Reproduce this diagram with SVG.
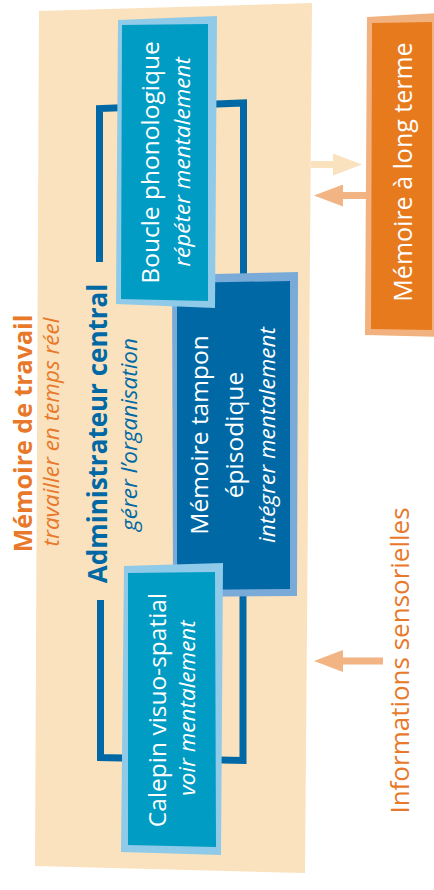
<svg xmlns="http://www.w3.org/2000/svg" width="434" height="890" viewBox="0 0 434 890">
<defs>
<style>
text{font-family:"Open Sans","Noto Sans",sans-serif;text-anchor:middle}
.main{font-size:24.5px;fill:#ffffff}
.sub{font-size:22.5px;font-style:italic;fill:#ffffff}
.bracket{fill:none;stroke:#0069a5;stroke-width:7;stroke-linejoin:miter}
.shaft-beige{stroke:#fae2bf;stroke-width:7;fill:none}
.shaft-orange{stroke:#f2b482;stroke-width:7;fill:none}
</style>
<marker id="head-beige" markerUnits="userSpaceOnUse" markerWidth="29" markerHeight="22" viewBox="0 0 29 22" refX="0" refY="11" orient="auto"><path d="M0,0 L29,11 L0,22 Z" fill="#fae2bf"/></marker>
<marker id="head-orange" markerUnits="userSpaceOnUse" markerWidth="29" markerHeight="22" viewBox="0 0 29 22" refX="0" refY="11" orient="auto"><path d="M0,0 L29,11 L0,22 Z" fill="#f2b482"/></marker>
</defs>
<rect width="434" height="890" fill="#ffffff"/>
<g id="memoire-de-travail">
<polygon points="39,11 312,3 305,873 35,866" fill="#f9e2bd"/>
<text transform="translate(32,433.5) rotate(-90)" style="font-size:25px;font-weight:bold;fill:#e8782a">Mémoire de travail</text>
<text transform="translate(59,432) rotate(-90)" style="font-size:22.5px;font-style:italic;fill:#e8782a">travailler en temps réel</text>
</g>
<g id="connectors">
<path class="bracket" d="M99.5,262 L99.5,108.5 L243.5,103 L243.5,285"/>
<path class="bracket" d="M100.5,600 L100.5,757.5 L243,760.5 L243,580"/>
<path class="shaft-beige" d="M311,164.5 L333,164.5" marker-end="url(#head-beige)"/>
<path class="shaft-orange" d="M367,195.5 L343,195.5" marker-end="url(#head-orange)"/>
<path class="shaft-orange" d="M383,661 L343,661" marker-end="url(#head-orange)"/>
</g>
<g id="administrateur-central">
<text transform="translate(107,433.5) rotate(-90)" style="font-size:26px;font-weight:bold;fill:#0069a5">Administrateur central</text>
<text transform="translate(137,434.5) rotate(-90)" style="font-size:22.5px;font-style:italic;fill:#0069a5">gérer l’organisation</text>
</g>
<g id="memoire-tampon">
<polygon points="172,275 298,272 297,596 173,597" fill="#7aabd8"/>
<polygon points="177,283 290,281 290,589 177,590" fill="#0069a5"/>
<text class="main" transform="translate(208,435) rotate(-90)">Mémoire tampon</text>
<text class="main" transform="translate(243,435) rotate(-90)">épisodique</text>
<text class="sub" transform="translate(275,435) rotate(-90)">intégrer mentalement</text>
</g>
<g id="boucle-phonologique">
<polygon points="118,20 217,16 215,308 116,304" fill="#8fcae8"/>
<polygon points="122,25 208,24 208,301 121,299" fill="#009cc4"/>
<text class="main" transform="translate(159,162.5) rotate(-90)">Boucle phonologique</text>
<text class="sub" transform="translate(190,162) rotate(-90)">répéter mentalement</text>
</g>
<g id="calepin-visuo-spatial">
<polygon points="124,566 223,563 221,855 121,852" fill="#8fcae8"/>
<polygon points="128,573 215,572 216,847 128,845" fill="#009cc4"/>
<text class="main" transform="translate(166,710) rotate(-90)">Calepin visuo-spatial</text>
<text class="sub" transform="translate(195,708) rotate(-90)">voir mentalement</text>
</g>
<g id="memoire-long-terme">
<polygon points="367,17 440,13 440,337 365,335" fill="#f2b27f"/>
<polygon points="372,23 432,22 432,330 371,329" fill="#e87a1e"/>
<text transform="translate(412,172) rotate(-90)" style="font-size:25px;fill:#ffffff">Mémoire à long terme</text>
</g>
<g id="informations-sensorielles">
<text transform="translate(409,660.5) rotate(-90)" style="font-size:26px;fill:#e8782a">Informations sensorielles</text>
</g>
</svg>
